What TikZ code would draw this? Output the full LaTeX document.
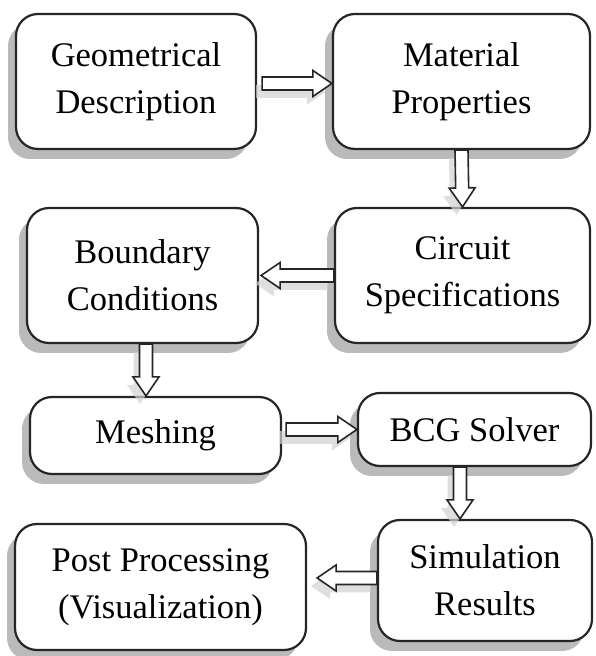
\documentclass[tikz,border=0pt]{standalone}
\usepackage{fontspec}
\setmainfont{Liberation Serif}
\newfontfamily\tmsfont{Liberation Serif}
\usetikzlibrary{shadows,calc}
\tikzset{
  box/.style={draw=black!85, line width=2.2pt, rounded corners=22pt, fill=white,
    align=center, inner sep=0pt, font=\tmsfont\fontsize{34.5}{47}\selectfont,
    drop shadow={shadow xshift=-8pt, shadow yshift=-10pt, fill=black!30, opacity=0.9}},
  blk/.style={draw=black!85, line width=1.6pt, fill=white,
    drop shadow={shadow xshift=-6pt, shadow yshift=-8pt, fill=black!18, opacity=0.7},
    to path={let \p1=(\tikztostart), \p2=(\tikztotarget),
      \n1={atan2(\y2-\y1,\x2-\x1)}, \n2={veclen(\x2-\x1,\y2-\y1)} in
      ([shift={(\p1)},rotate=\n1]0,6.5) -- ([shift={(\p1)},rotate=\n1]{\n2-19},6.5)
      -- ([shift={(\p1)},rotate=\n1]{\n2-19},13) -- ([shift={(\p1)},rotate=\n1]{\n2},0)
      -- ([shift={(\p1)},rotate=\n1]{\n2-19},-13) -- ([shift={(\p1)},rotate=\n1]{\n2-19},-6.5)
      -- ([shift={(\p1)},rotate=\n1]0,-6.5) -- cycle}}
}
\begin{document}
\begin{tikzpicture}[x=1pt,y=1pt]
\useasboundingbox (0,0) rectangle (595,656);
\node[box, minimum width=240pt, minimum height=135pt] (g) at (136,574.5) {Geometrical\\Description};
\node[box, minimum width=257pt, minimum height=135pt] (m) at (461.5,574.5) {Material\\Properties};
\node[box, minimum width=231pt, minimum height=135pt] (b) at (142.5,380.5) {Boundary\\Conditions};
\node[box, minimum width=255pt, minimum height=135pt] (c) at (462.5,380.5) {Circuit\\Specifications};
\node[box, minimum width=251pt, minimum height=77pt] (me) at (155.5,220.5) {Meshing};
\node[box, minimum width=233pt, minimum height=73pt] (bs) at (474.5,226.5) {BCG Solver};
\node[box, minimum width=291pt, minimum height=126pt] (pp) at (160.5,69) {Post Processing\\(Visualization)};
\node[box, minimum width=214pt, minimum height=121pt] (sr) at (485,75.5) {Simulation\\Results};
\coordinate (a4s) at ($(b.south)+(3.5,0)$);
\coordinate (a6s) at ($(bs.south)+(-14.5,0)$);
\draw[blk] ($(g.east)+(5,-2)$) to ($(m.west)+(0,-2)$);
\draw[blk] (m.south) to (c.north);
\draw[blk] (c.west) to ($(b.east)+(2,0)$);
\draw[blk] (a4s) to (a4s |- me.north);
\draw[blk] ($(me.east |- bs.west)+(4,0)$) to (bs.west);
\draw[blk] (a6s) to (a6s |- sr.north);
\draw[blk] (sr.west |- 0,78) to ($(pp.east |- 0,78)+(10,0)$);
\end{tikzpicture}
\end{document}
